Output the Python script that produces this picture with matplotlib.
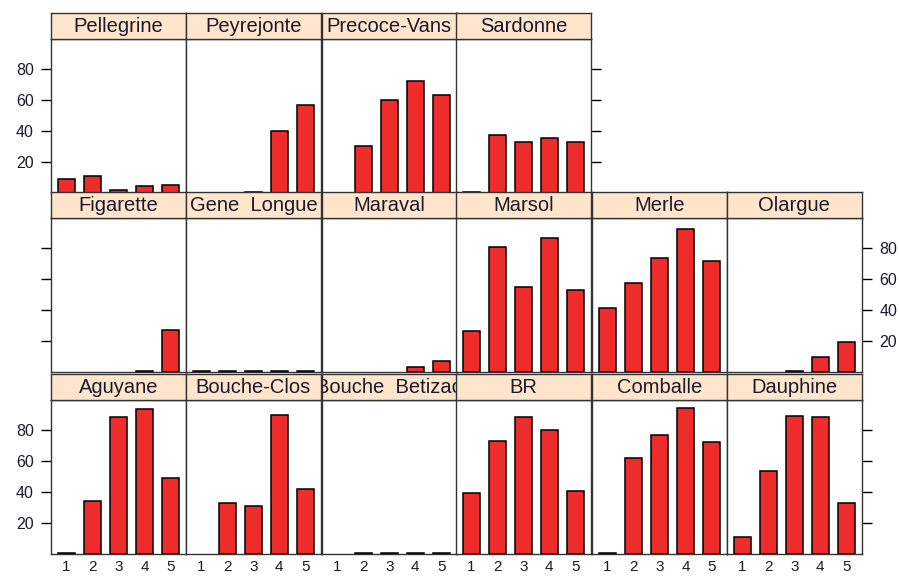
import matplotlib
matplotlib.use("Agg")
import matplotlib.pyplot as plt

plt.rcParams['font.family'] = ['Liberation Sans', 'DejaVu Sans']

# ---- data ----
positions = [1, 2, 3, 4, 5]
xtick_labels = ["1", "2", "3", "4", "5"]
ytick_values = [20, 40, 60, 80]

row_top = ["Pellegrine", "Peyrejonte", "Precoce-Vans", "Sardonne"]
row_mid = ["Figarette", "Gene  Longue", "Maraval", "Marsol", "Merle", "Olargue"]
row_bot = ["Aguyane", "Bouche-Clos", "Bouche  Betizac", "BR", "Comballe", "Dauphine"]

pellegrine = [9.4, 11.4, 2.0, 4.5, 5.1]
peyrejonte = [0, 0, 0.6, 40.0, 56.9]
precoce_vans = [0, 30.4, 60.0, 72.4, 63.4]
sardonne = [0.6, 37.9, 33.1, 35.7, 32.9]

figarette = [0, 0, 0, 0.6, 27.5]
gene_longue = [0.6, 0.6, 0.6, 0.6, 0.6]
maraval = [0, 0, 0, 3.3, 7.5]
marsol = [26.6, 80.7, 55.0, 86.8, 52.9]
merle = [41.4, 57.3, 73.7, 92.3, 71.5]
olargue = [0, 0, 0.8, 9.7, 19.6]

aguyane = [0.6, 34.0, 88.6, 93.4, 49.2]
bouche_clos = [0, 32.8, 31.3, 89.3, 41.7]
bouche_betizac = [0, 0.6, 0.6, 0.6, 0.6]
br = [39.3, 72.6, 88.6, 80.0, 40.4]
comballe = [0.6, 62.0, 76.7, 94.0, 72.0]
dauphine = [11.1, 53.5, 89.1, 88.6, 32.8]

rows = [
    (row_top, [pellegrine, peyrejonte, precoce_vans, sardonne]),
    (row_mid, [figarette, gene_longue, maraval, marsol, merle, olargue]),
    (row_bot, [aguyane, bouche_clos, bouche_betizac, br, comballe, dauphine]),
]

# ---- layout (pixels) ----
W, H = 899, 578
fig = plt.figure(figsize=(W / 100, H / 100), dpi=100)

col_left = [51, 185.8, 321.7, 455.8, 592.0, 726.8]
col_w = 135.1
row_strip_top = [13.3, 192.3, 374.0]
strip_h = 25.5
panel_h = 154.6

bar_color = "#ee2c2c"
strip_color = "#ffe5cc"
border_color = "#333333"
txt_color = "#1a1a2a"


def fx(px):
    return px / W


def fy(py):
    return 1 - py / H


for r, (names, datas) in enumerate(rows):
    for c, (name, vals) in enumerate(zip(names, datas)):
        x0 = col_left[c]
        st = row_strip_top[r]
        # panel
        pb = st + strip_h + panel_h
        ax = fig.add_axes([fx(x0), fy(pb), col_w / W, panel_h / H])
        lws = [1.1 if v > 0 else 0 for v in vals]
        ax.bar(positions, vals, width=2 / 3, color=bar_color,
               edgecolor="black", linewidth=lws, zorder=2)
        ax.set_xlim(0.4, 5.6)
        ax.set_ylim(0, 99.6)
        for s in ax.spines.values():
            s.set_color(border_color)
            s.set_linewidth(1.0)
            s.set_zorder(3)
        ax.set_xticks(positions)
        if r == 2:
            ax.set_xticklabels(xtick_labels, fontsize=11, color=txt_color)
            ax.tick_params(axis="x", length=0, pad=4)
        else:
            ax.tick_params(axis="x", bottom=False, labelbottom=False)
        ax.set_yticks(ytick_values)
        ax.tick_params(axis="y", left=False, right=False, labelleft=False,
                       labelright=False, length=7.5, width=1.0,
                       labelsize=11.5, labelcolor=txt_color, pad=5)
        last_col = len(names) - 1
        if c == 0:
            ax.tick_params(axis="y", left=True, labelleft=(r != 1))
        if c == last_col:
            ax.tick_params(axis="y", right=True, labelright=(r == 1))
        # strip
        sax = fig.add_axes([fx(x0), fy(st + strip_h), col_w / W, strip_h / H])
        sax.set_facecolor(strip_color)
        sax.set_xticks([])
        sax.set_yticks([])
        for s in sax.spines.values():
            s.set_color(border_color)
            s.set_linewidth(1.0)
        sax.text(0.5, 0.47, name, transform=sax.transAxes, ha="center",
                 va="center", fontsize=14.5, color=txt_color, clip_on=True)

fig.savefig("out.png", dpi=100)
